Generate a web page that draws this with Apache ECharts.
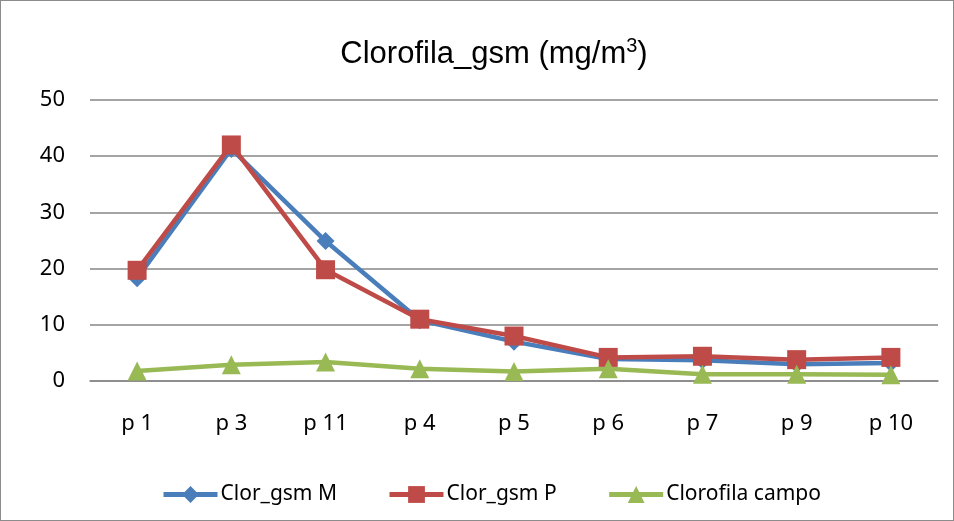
<!DOCTYPE html>
<html><head><meta charset="utf-8">
<script src="https://cdn.jsdelivr.net/npm/echarts@6/dist/echarts.min.js"></script>
<style>html,body{margin:0;padding:0;background:#fff}#c{width:954px;height:521px;box-sizing:border-box;border:1px solid #8c8c8c}</style>
</head><body><div id="c"></div>
<script>
const categories = ['p 1','p 3','p 11','p 4','p 5','p 6','p 7','p 9','p 10'];
const clorGsmM = [18.3, 41.3, 24.9, 10.8, 7.0, 3.9, 3.7, 3.0, 3.2];
const clorGsmP = [19.7, 42.0, 19.8, 11.0, 8.0, 4.2, 4.4, 3.8, 4.2];
const clorofilaCampo = [1.8, 2.9, 3.4, 2.2, 1.7, 2.2, 1.2, 1.2, 1.1];
const yTicks = [0, 10, 20, 30, 40, 50];

const chart = echarts.init(document.getElementById('c'));
const font = 'Arial, "Liberation Sans", sans-serif';
const bodyFont = '"Noto Sans", "Open Sans", sans-serif';
function s(name, data, color, symbol, size) {
  return { name, type: 'line', data, symbol, symbolSize: size,
    lineStyle: { color, width: 4.5 }, itemStyle: { color }, animation: false };
}
chart.setOption({
  animation: false,
  title: { text: 'Clorofila_gsm (mg/m{sup|3})', left: 488, top: 30, textAlign: 'center',
    textStyle: { fontFamily: font, fontSize: 31, fontWeight: 'normal', color: '#000',
      rich: { sup: { fontSize: 20, verticalAlign: 'top', padding: [0,0,16,0], fontFamily: font, color: '#000' } } } },
  grid: { left: 89, right: 15, top: 99, bottom: 139 },
  legend: { bottom: 10, left: 155, itemWidth: 54, itemHeight: 21, itemGap: 50,
    lineStyle: { width: 5 },
    textStyle: { fontFamily: bodyFont, fontSize: 21, color: '#000', padding: [0,0,0,-2] },
    data: ['Clor_gsm M','Clor_gsm P','Clorofila campo'] },
  xAxis: { type: 'category', data: categories, boundaryGap: true,
    axisLine: { lineStyle: { color: '#868686', width: 1.5 } }, axisTick: { show: false },
    axisLabel: { fontFamily: bodyFont, fontSize: 22, color: '#000', margin: 32 } },
  yAxis: { type: 'value', min: yTicks[0], max: yTicks[yTicks.length-1], interval: 10,
    axisLine: { show: false }, axisTick: { show: false },
    axisLabel: { fontFamily: bodyFont, fontSize: 22, color: '#000', margin: 25 },
    splitLine: { lineStyle: { color: '#868686', width: 1.5 } } },
  series: [
    s('Clor_gsm M', clorGsmM, '#4a7ebb', 'diamond', 18),
    s('Clor_gsm P', clorGsmP, '#be4b48', 'rect', 19),
    s('Clorofila campo', clorofilaCampo, '#98b954', 'triangle', 19)
  ]
});
</script></body></html>
